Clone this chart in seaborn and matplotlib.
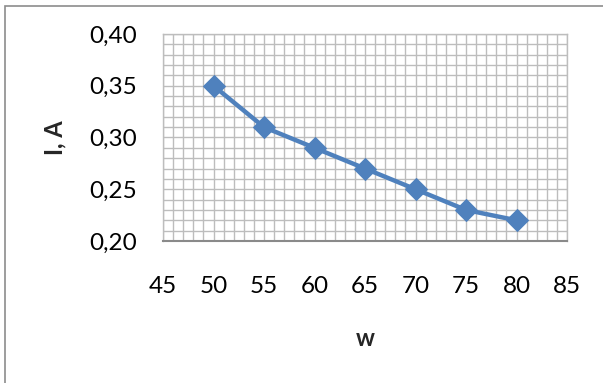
import matplotlib
matplotlib.use("Agg")
import matplotlib.pyplot as plt
import seaborn as sns
import pandas as pd
from matplotlib.ticker import MultipleLocator, FuncFormatter
from matplotlib.patches import Rectangle

w = [50, 55, 60, 65, 70, 75, 80]
current = [0.35, 0.31, 0.29, 0.27, 0.25, 0.23, 0.22]
x_label = "w"
y_label = "I, A"

sns.set_theme(style="white")
plt.rcParams['font.family'] = ['Lato', 'DejaVu Sans']

fig = plt.figure(figsize=(6.03, 3.83), dpi=100)
fig.patch.set_facecolor("white")
W, H = 603, 383
ax = fig.add_axes([163 / W, 1 - 241 / H, 404 / W, 207 / H])

# outer chart border (extends beyond right/bottom edges)
fig.patches.append(Rectangle((5 / W, -0.05), 1.2, 1 - 6 / H + 0.05,
                             transform=fig.transFigure, fill=False,
                             edgecolor="#8c8c8c", linewidth=1.2, zorder=0))

df = pd.DataFrame({"w": w, "I": current})
sns.lineplot(data=df, x="w", y="I", ax=ax, color="#4F81BD", linewidth=3.2,
             marker="D", markersize=11, markeredgecolor="#4F81BD", zorder=5)

ax.set_xlim(45, 85)
ax.set_ylim(0.20, 0.40)
ax.xaxis.set_major_locator(MultipleLocator(5))
ax.xaxis.set_minor_locator(MultipleLocator(1))
ax.yaxis.set_major_locator(MultipleLocator(0.05))
ax.yaxis.set_minor_locator(MultipleLocator(0.01))
ax.yaxis.set_major_formatter(FuncFormatter(lambda v, p: f"{v:.2f}".replace(".", ",")))
ax.xaxis.set_major_formatter(FuncFormatter(lambda v, p: f"{v:.0f}"))
ax.grid(True, which="both", color="#bdbdbd", linewidth=1.0)
ax.set_axisbelow(True)
for s in ["top", "right", "left"]:
    ax.spines[s].set_color("#bdbdbd")
    ax.spines[s].set_linewidth(1.0)
ax.spines["bottom"].set_color("#8a8a8a")
ax.spines["bottom"].set_linewidth(1.5)
ax.tick_params(which="both", length=0)
ax.tick_params(axis="y", pad=18.5, labelsize=17.5, labelcolor="black")
ax.tick_params(axis="x", pad=25, labelsize=17.5, labelcolor="black")

ax.set_xlabel(x_label, fontsize=17, fontweight="bold", labelpad=22)
ax.set_ylabel(y_label, fontsize=17, fontweight="bold", labelpad=17)

fig.savefig("out.png", dpi=100, facecolor="white")
